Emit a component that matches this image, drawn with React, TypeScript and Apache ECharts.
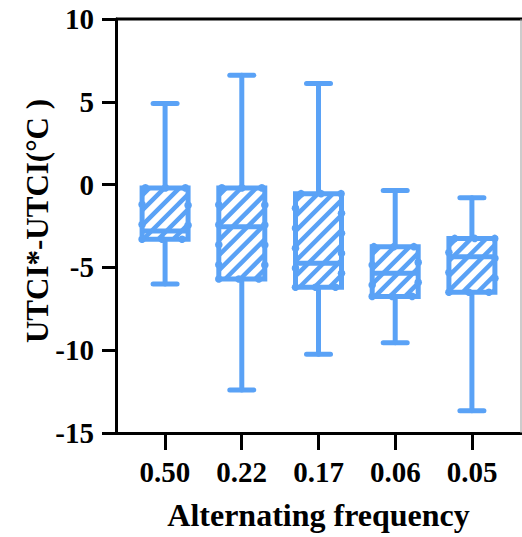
import React, { useEffect, useRef } from "react";
import * as echarts from "echarts";

const categories = ["0.50", "0.22", "0.17", "0.06", "0.05"];
const whiskerLow = [-6.0, -12.4, -10.25, -9.55, -13.65];
const quartile1 = [-3.3, -5.7, -6.2, -6.75, -6.5];
const medians = [-2.8, -2.55, -4.75, -5.35, -4.35];
const quartile3 = [-0.2, -0.2, -0.55, -3.75, -3.25];
const whiskerHigh = [4.9, 6.6, 6.1, -0.35, -0.8];
const yTicks = [-15, -10, -5, 0, 5, 10];
const yAxisTitle = "UTCI*-UTCI(°C )";
const xAxisTitle = "Alternating frequency";

const BLUE = "#5aa2f6";
const FONT = "Liberation Serif";

export default function App() {
  const ref = useRef<HTMLDivElement>(null);
  useEffect(() => {
    if (!ref.current) return;
    const chart = echarts.init(ref.current, null, { renderer: "svg" });
    const data = categories.map((_, i) => [
      i,
      whiskerLow[i],
      quartile1[i],
      medians[i],
      quartile3[i],
      whiskerHigh[i],
    ]);
    const renderItem = (params: any, api: any) => {
      const x = api.value(0);
      const lo = api.coord([x, api.value(1)]);
      const q1 = api.coord([x, api.value(2)]);
      const med = api.coord([x, api.value(3)]);
      const q3 = api.coord([x, api.value(4)]);
      const hi = api.coord([x, api.value(5)]);
      const cx = lo[0];
      const half = 23;
      const capHalf = 12;
      const lw = 5;
      const x0 = cx - half;
      const x1 = cx + half;
      const y0 = q3[1];
      const y1 = q1[1];
      const children: any[] = [];
      const line = (ax: number, ay: number, bx: number, by: number, w = lw) => ({
        type: "line",
        shape: { x1: ax, y1: ay, x2: bx, y2: by },
        style: { stroke: BLUE, lineWidth: w, lineCap: "round" },
      });
      children.push(line(cx, hi[1], cx, y0));
      children.push(line(cx, y1, cx, lo[1]));
      children.push(line(cx - capHalf, hi[1], cx + capHalf, hi[1]));
      children.push(line(cx - capHalf, lo[1], cx + capHalf, lo[1]));
      children.push({
        type: "rect",
        shape: { x: x0, y: y0, width: x1 - x0, height: y1 - y0 },
        style: { fill: "#ffffff", stroke: null },
      });
      const step = 15;
      for (let c = x0 + y0 + step / 2; c < x1 + y1; c += step) {
        const ax = Math.max(x0, c - y1);
        const bx = Math.min(x1, c - y0);
        if (bx <= ax) continue;
        children.push({
          type: "line",
          shape: { x1: ax, y1: c - ax, x2: bx, y2: c - bx },
          style: { stroke: BLUE, lineWidth: 4.5, lineCap: "butt" },
        });
      }
      children.push({
        type: "line",
        shape: { x1: x0, y1: med[1], x2: x1, y2: med[1] },
        style: { stroke: BLUE, lineWidth: lw },
      });
      children.push({
        type: "rect",
        shape: { x: x0, y: y0, width: x1 - x0, height: y1 - y0 },
        style: { fill: null, stroke: BLUE, lineWidth: lw },
      });
      const w = x1 - x0;
      const h = y1 - y0;
      const per = 2 * (w + h);
      const dstep = 20;
      for (let d = 0; d < per - 4; d += dstep) {
        let px: number, py: number;
        if (d < w) {
          px = x0 + d;
          py = y1;
        } else if (d < w + h) {
          px = x1;
          py = y1 - (d - w);
        } else if (d < 2 * w + h) {
          px = x1 - (d - w - h);
          py = y0;
        } else {
          px = x0;
          py = y0 + (d - 2 * w - h);
        }
        children.push({
          type: "circle",
          shape: { cx: px, cy: py, r: 3.8 },
          style: { fill: BLUE },
        });
      }
      return { type: "group", children };
    };
    chart.setOption({
      animation: false,
      grid: [
        { left: 116, right: 1, top: 19, bottom: 104 },
        { left: 126.6, right: 11.6, top: 19, bottom: 104 },
      ],
      xAxis: [
        {
          type: "value",
          gridIndex: 0,
          min: -0.64,
          max: 4.64,
          axisLine: { show: true, onZero: false, lineStyle: { color: "#000", width: 3 } },
          axisTick: { show: false },
          axisLabel: { show: false },
          splitLine: { show: false },
        },
        {
          type: "category",
          gridIndex: 1,
          data: categories,
          boundaryGap: true,
          name: xAxisTitle,
          nameLocation: "middle",
          nameGap: 66,
          nameMoveOverlap: false,
          nameTextStyle: { fontFamily: FONT, fontWeight: "bold", fontSize: 32, color: "#000" },
          axisLine: { show: false, onZero: false },
          axisTick: { show: true, alignWithLabel: true, length: 17, lineStyle: { color: "#000", width: 3 } },
          axisLabel: { fontFamily: FONT, fontWeight: "bold", fontSize: 29, color: "#000", margin: 24 },
          splitLine: { show: false },
        },
      ],
      yAxis: [
        {
          type: "value",
          gridIndex: 0,
          min: yTicks[0],
          max: yTicks[yTicks.length - 1],
          interval: 5,
          axisLine: { show: true, onZero: false, lineStyle: { color: "#000", width: 3 } },
          axisTick: { show: true, length: 14, lineStyle: { color: "#000", width: 3 } },
          axisLabel: { fontFamily: FONT, fontWeight: "bold", fontSize: 29, color: "#000", margin: 22 },
          splitLine: { show: false },
        },
        {
          type: "value",
          gridIndex: 1,
          min: yTicks[0],
          max: yTicks[yTicks.length - 1],
          show: false,
        },
      ],
      graphic: [
        {
          type: "line",
          shape: { x1: 116, y1: 19, x2: 522, y2: 19 },
          style: { stroke: "#000", lineWidth: 3 },
          z: 10,
        },
        {
          type: "line",
          shape: { x1: 521, y1: 19, x2: 521, y2: 433 },
          style: { stroke: "#999", lineWidth: 1 },
          z: 10,
        },
        {
          type: "text",
          x: 37.5,
          y: 221,
          rotation: Math.PI / 2,
          style: {
            text: yAxisTitle,
            fontFamily: FONT,
            fontWeight: "bold",
            fontSize: 31,
            fill: "#000",
            align: "center",
            verticalAlign: "middle",
          },
        },
      ],
      series: [
        {
          type: "custom",
          xAxisIndex: 0,
          yAxisIndex: 0,
          data,
          renderItem,
          clip: false,
        },
      ],
    });
    return () => chart.dispose();
  }, []);
  return (
    <div
      ref={ref}
      style={{ width: 522, height: 537, position: "absolute", left: 0, top: 0 }}
    />
  );
}
